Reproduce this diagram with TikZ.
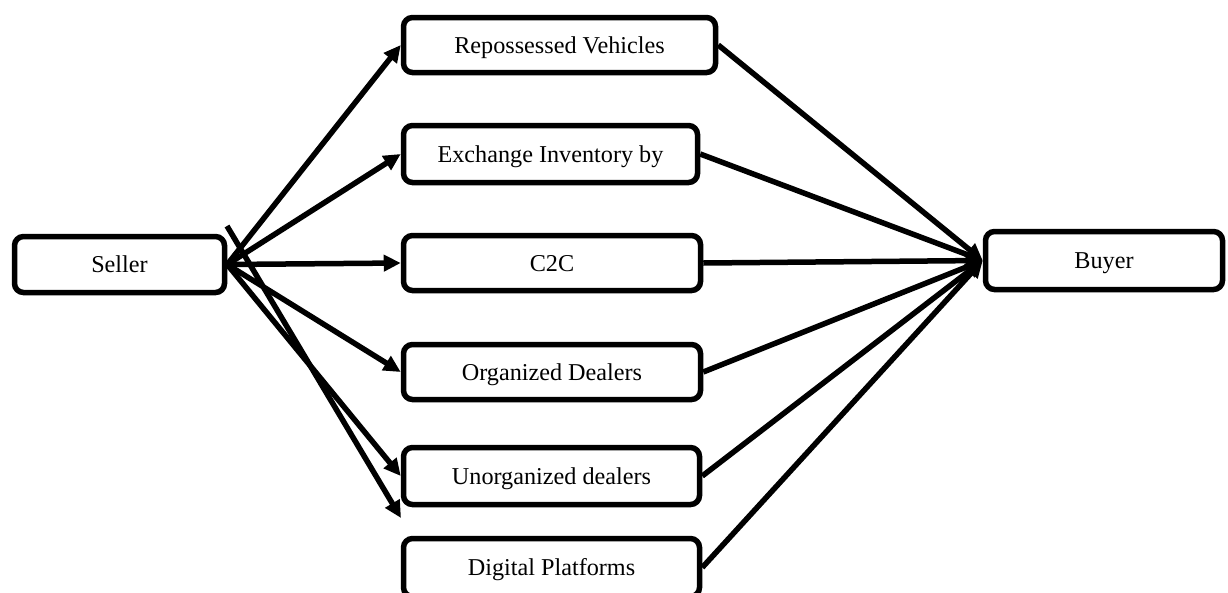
\documentclass[tikz,border=0pt]{standalone}
\usepackage{fontspec}
\setmainfont{Liberation Serif}
\usetikzlibrary{arrows.meta}
\begin{document}
\begin{tikzpicture}[x=1pt,y=-1pt,
  box/.style={draw=black,line width=5.5pt,rounded corners=9pt,fill=white,inner sep=0pt,
    font=\fontsize{24.2}{28}\selectfont,align=center,text height=16pt,text depth=0pt},
  conn/.style={line width=5.5pt,-{Triangle[length=17pt,width=16pt]}}]
\useasboundingbox (0,0) rectangle (1228,592);
\node[box,minimum width=210pt,minimum height=56pt] (seller) at (119.5,264.5) {Seller};
\node[box,minimum width=237pt,minimum height=58pt] (buyer) at (1104,260.5) {Buyer};
\node[box,minimum width=312pt,minimum height=55pt] (rep) at (559.5,45) {Repossessed Vehicles};
\node[box,minimum width=294pt,minimum height=57pt] (exch) at (550.5,154) {Exchange Inventory by};
\node[box,minimum width=297pt,minimum height=55pt] (c2c) at (552,263) {C2C};
\node[box,minimum width=297pt,minimum height=55pt] (org) at (552,372) {Organized Dealers};
\node[box,minimum width=296pt,minimum height=57pt] (unorg) at (551.5,476) {Unorganized dealers};
\node[box,minimum width=296pt,minimum height=58pt] (dig) at (551.5,567.5) {Digital Platforms};
\coordinate (xs) at (227,226);
\coordinate (xe) at (401,518);
\foreach \n in {rep,exch,c2c,org,unorg}{
  \draw[conn] (seller.east) -- (\n.west);
}
\draw[conn] (xs) -- (xe);
\foreach \n in {rep,exch,c2c,org,unorg,dig}{
  \draw[conn] (\n.east) -- (buyer.west);
}
\end{tikzpicture}
\end{document}
